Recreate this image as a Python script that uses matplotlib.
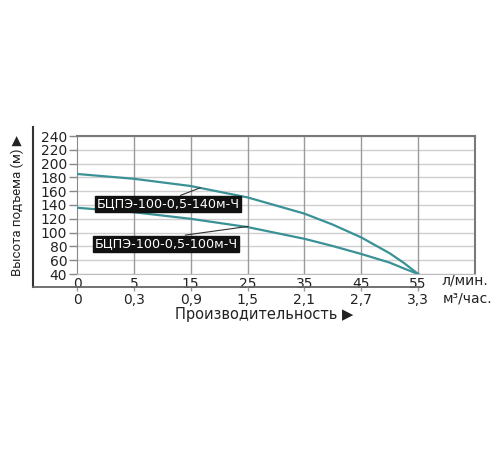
import numpy as np
import matplotlib
matplotlib.use("Agg")
import matplotlib.pyplot as plt
from matplotlib.lines import Line2D

# ---- data ----
flow_ticks = [0, 5, 15, 25, 35, 45, 55]                 # л/мин.
m3_labels = ["0", "0,3", "0,9", "1,5", "2,1", "2,7", "3,3"]  # м³/час.
y_ticks = [40, 60, 80, 100, 120, 140, 160, 180, 200, 220, 240]

flow = [0, 5, 15, 25, 35, 40, 45, 50, 52.5, 55]
head_140 = [185, 178, 167.5, 151, 127.5, 111.5, 93, 70, 56, 40]
head_100 = [136, 129.5, 120, 108, 91, 80.5, 69, 56.5, 48, 40]

label_140 = "БЦПЭ-100-0,5-140м-Ч"
label_100 = "БЦПЭ-100-0,5-100м-Ч"

# ---- piecewise (evenly spaced ticks) scale ----
knots_flow = np.array([0, 5, 15, 25, 35, 45, 55, 65], dtype=float)
knots_pos = np.arange(len(knots_flow), dtype=float)

def fwd(x):
    return np.interp(x, knots_flow, knots_pos)

def inv(p):
    return np.interp(p, knots_pos, knots_flow)

W, H = 500, 450
fig = plt.figure(figsize=(W / 100, H / 100), dpi=100)

L, R, T, B = 77, 475, 136, 274
pos = [L / W, 1 - B / H, (R - L) / W, (B - T) / H]
ax = fig.add_axes(pos)
ax.set_xscale("function", functions=(fwd, inv))
ax.set_xlim(0, 65)
ax.set_ylim(40, 240)

teal = "#3a9196"
ax.plot(flow, head_140, color=teal, lw=1.6, zorder=3)
ax.plot(flow, head_100, color=teal, lw=1.6, zorder=3)

# grid
for yv in y_ticks:
    ax.axhline(yv, color="#cfcfcf", lw=1.0, zorder=1)
for xv in flow_ticks[1:]:
    ax.axvline(xv, color="#9a9a9a", lw=1.0, zorder=1)

ax.set_yticks(y_ticks)
ax.set_yticklabels([str(v) for v in y_ticks])
ax.set_xticks(flow_ticks)
ax.set_xticklabels([str(v) for v in flow_ticks])
ax.tick_params(axis="y", direction="out", length=6, width=1, color="#888888",
               labelsize=10, pad=1, labelcolor="#222222")
ax.tick_params(axis="x", length=0, labelsize=10, pad=2.5, labelcolor="#222222")

ax.spines["left"].set_color("#888888")
ax.spines["bottom"].set_color("#bdbdbd")
ax.spines["top"].set_color("#7a7a7a")
ax.spines["right"].set_color("#7a7a7a")
ax.spines["top"].set_linewidth(1.5)
ax.spines["right"].set_linewidth(1.5)

# secondary axis (m3/h), its bottom spine pushed below the frame line
ax2 = fig.add_axes(pos, frameon=True)
ax2.patch.set_visible(False)
for s in ("top", "right", "left"):
    ax2.spines[s].set_visible(False)
ax2.spines["bottom"].set_position(("outward", 9.4))
ax2.spines["bottom"].set_color("none")
ax2.set_xscale("function", functions=(fwd, inv))
ax2.set_xlim(0, 65)
ax2.set_yticks([])
ax2.set_xticks(flow_ticks)
ax2.set_xticklabels(m3_labels)
ax2.tick_params(axis="x", direction="out", length=3, width=1, color="#999999",
                labelsize=10, pad=1.5, labelcolor="#222222")

# L-shaped frame
fig.add_artist(Line2D([33 / W, 33 / W], [1 - 127 / H, 1 - 287 / H],
                      color="#333333", lw=1.5))
fig.add_artist(Line2D([33 / W, 420 / W], [1 - 287 / H, 1 - 287 / H],
                      color="#666666", lw=1.3))

# annotations
box = dict(boxstyle="square,pad=0.12", fc="#111111", ec="#111111")
ax.annotate(label_140, xy=(16.7, 165), xytext=(11, 141.5),
            ha="center", va="center", color="white", fontsize=9.2,
            bbox=box, zorder=5,
            arrowprops=dict(arrowstyle="-", color="#333333", lw=0.8,
                            relpos=(0.55, 1.0), shrinkA=0, shrinkB=0))
ax.annotate(label_100, xy=(25.1, 109), xytext=(10.7, 84),
            ha="center", va="center", color="white", fontsize=9.2,
            bbox=box, zorder=5,
            arrowprops=dict(arrowstyle="-", color="#333333", lw=0.8,
                            relpos=(0.53, 1.0), shrinkA=0, shrinkB=0))

# axis titles and units
fig.text(17 / W, 1 - 205 / H, "Высота подъема (м) ▶", rotation=90,
         ha="center", va="center", fontsize=9.5, color="#222222",
         family=["Roboto", "DejaVu Sans"])
fig.text(264 / W, 1 - 314 / H, "Производительность ▶", ha="center",
         va="center", fontsize=10.5, color="#222222")
fig.text(441 / W, 1 - 281 / H, "л/мин.", ha="left", va="center",
         fontsize=10, color="#222222")
fig.text(443 / W, 1 - 299 / H, "м³/час.", ha="left", va="center",
         fontsize=10, color="#222222")

fig.savefig("out.png", dpi=100, facecolor="white")
